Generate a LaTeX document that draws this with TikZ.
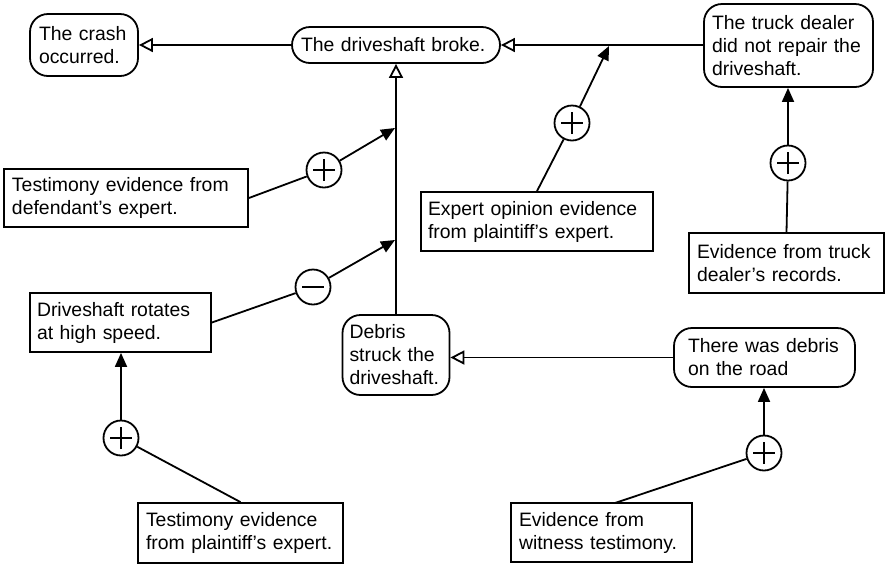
\documentclass[tikz,border=0pt]{standalone}
\usepackage{fontspec}
\setmainfont{Liberation Sans}
\usetikzlibrary{arrows.meta}
\begin{document}
\begin{tikzpicture}[x=1pt,y=-1pt,
  box/.style={draw, line width=1.8pt, align=left, inner ysep=0pt,
    font=\fontsize{19.4}{23}\selectfont},
  claim/.style={box, rounded corners=18pt},
  link/.style={line width=1.8pt},
  pro/.style={link, -{Triangle[length=14pt,width=12pt]}},
  infer/.style={link, -{Triangle[open,length=14pt,width=14pt,fill=white]}},
  signcirc/.style={circle, draw, line width=1.8pt, minimum size=35pt, inner sep=0pt, fill=white},
  pluscirc/.style={signcirc, path picture={\draw[line width=1.8pt]
      (path picture bounding box.center) +(-11pt,0) -- +(11pt,0)
      +(0,-11pt) -- +(0,11pt);}},
  minuscirc/.style={signcirc, path picture={\draw[line width=1.8pt]
      (path picture bounding box.center) +(-11pt,0) -- +(11pt,0);}},
]
\useasboundingbox (0,0) rectangle (885,566);

% claims (rounded boxes)
\node[claim, text width=90pt, inner xsep=9pt, minimum height=62pt] (crash) at (84,45)
  {\mbox{The crash}\\occurred.};
\node[claim, text width=190pt, inner xsep=9pt, minimum height=36pt] (broke) at (396,45)
  {\mbox{The driveshaft broke.}};
\node[claim, text width=153pt, inner xsep=8pt, minimum height=83pt] (truck) at (788.5,45.5)
  {\mbox{The truck dealer}\\\mbox{did not repair the}\\driveshaft.};
\node[claim, text width=93pt, inner xsep=7pt, minimum height=80pt] (debris) at (396,355)
  {Debris\\\mbox{struck the}\\driveshaft.};
\node[claim, text width=153pt, inner xsep=14pt, minimum height=59pt] (road) at (764.5,357.5)
  {\mbox{There was debris}\\\mbox{on the road}};

% evidence (square boxes)
\node[box, text width=228pt, inner xsep=8pt, minimum height=58pt] (def) at (126,198)
  {\mbox{Testimony evidence from}\\\mbox{defendant’s expert.}};
\node[box, text width=167pt, inner xsep=7pt, minimum height=59pt] (rot) at (120.5,322.5)
  {\mbox{Driveshaft rotates}\\\mbox{at high speed.}};
\node[box, text width=218pt, inner xsep=7pt, minimum height=59pt] (expert) at (537,221.5)
  {\mbox{Expert opinion evidence}\\\mbox{from plaintiff’s expert.}};
\node[box, text width=179pt, inner xsep=8pt, minimum height=60pt] (records) at (786.5,263)
  {\mbox{Evidence from truck}\\\mbox{dealer’s records.}};
\node[box, text width=189pt, inner xsep=8pt, minimum height=60pt] (plaintiff) at (240.5,533)
  {\mbox{Testimony evidence}\\\mbox{from plaintiff’s expert.}};
\node[box, text width=165pt, inner xsep=8pt, minimum height=59pt] (witness) at (601.5,532.5)
  {\mbox{Evidence from}\\\mbox{witness testimony.}};

% support / attack markers
\node[pluscirc] (cdef) at (324,170) {};
\node[minuscirc] (crot) at (313,287) {};
\node[pluscirc] (cexp) at (572,123) {};
\node[pluscirc] (crec) at (788,163) {};
\node[pluscirc] (cpla) at (121,438) {};
\node[pluscirc] (cwit) at (764,453) {};

% points where arguments attach to inference links
\coordinate (onbroke) at (609,46);
\coordinate (onlinkA) at (395,128);
\coordinate (onlinkB) at (395,240);
\coordinate (witTop) at (615,503);

% inference links
\draw[infer] (broke.west) -- (crash.east);
\draw[infer] (truck.west |- broke.east) -- (broke.east);
\draw[infer] (debris.north) -- (broke.south);
\draw[infer] (road.west) -- (road.west -| debris.east);

% evidence links
\draw[link] (def.east) -- (cdef);
\draw[pro] (cdef) -- (onlinkA);
\draw[link] (rot.east) -- (crot);
\draw[pro] (crot) -- (onlinkB);
\draw[link] (expert.north) -- (cexp);
\draw[pro] (cexp) -- (onbroke);
\draw[link] (records.north) -- (crec);
\draw[pro] (crec) -- (crec |- truck.south);
\draw[link] (plaintiff.north) -- (cpla);
\draw[pro] (cpla) -- (cpla |- rot.south);
\draw[link] (witTop) -- (cwit);
\draw[pro] (cwit) -- (cwit |- road.south);
\end{tikzpicture}
\end{document}
